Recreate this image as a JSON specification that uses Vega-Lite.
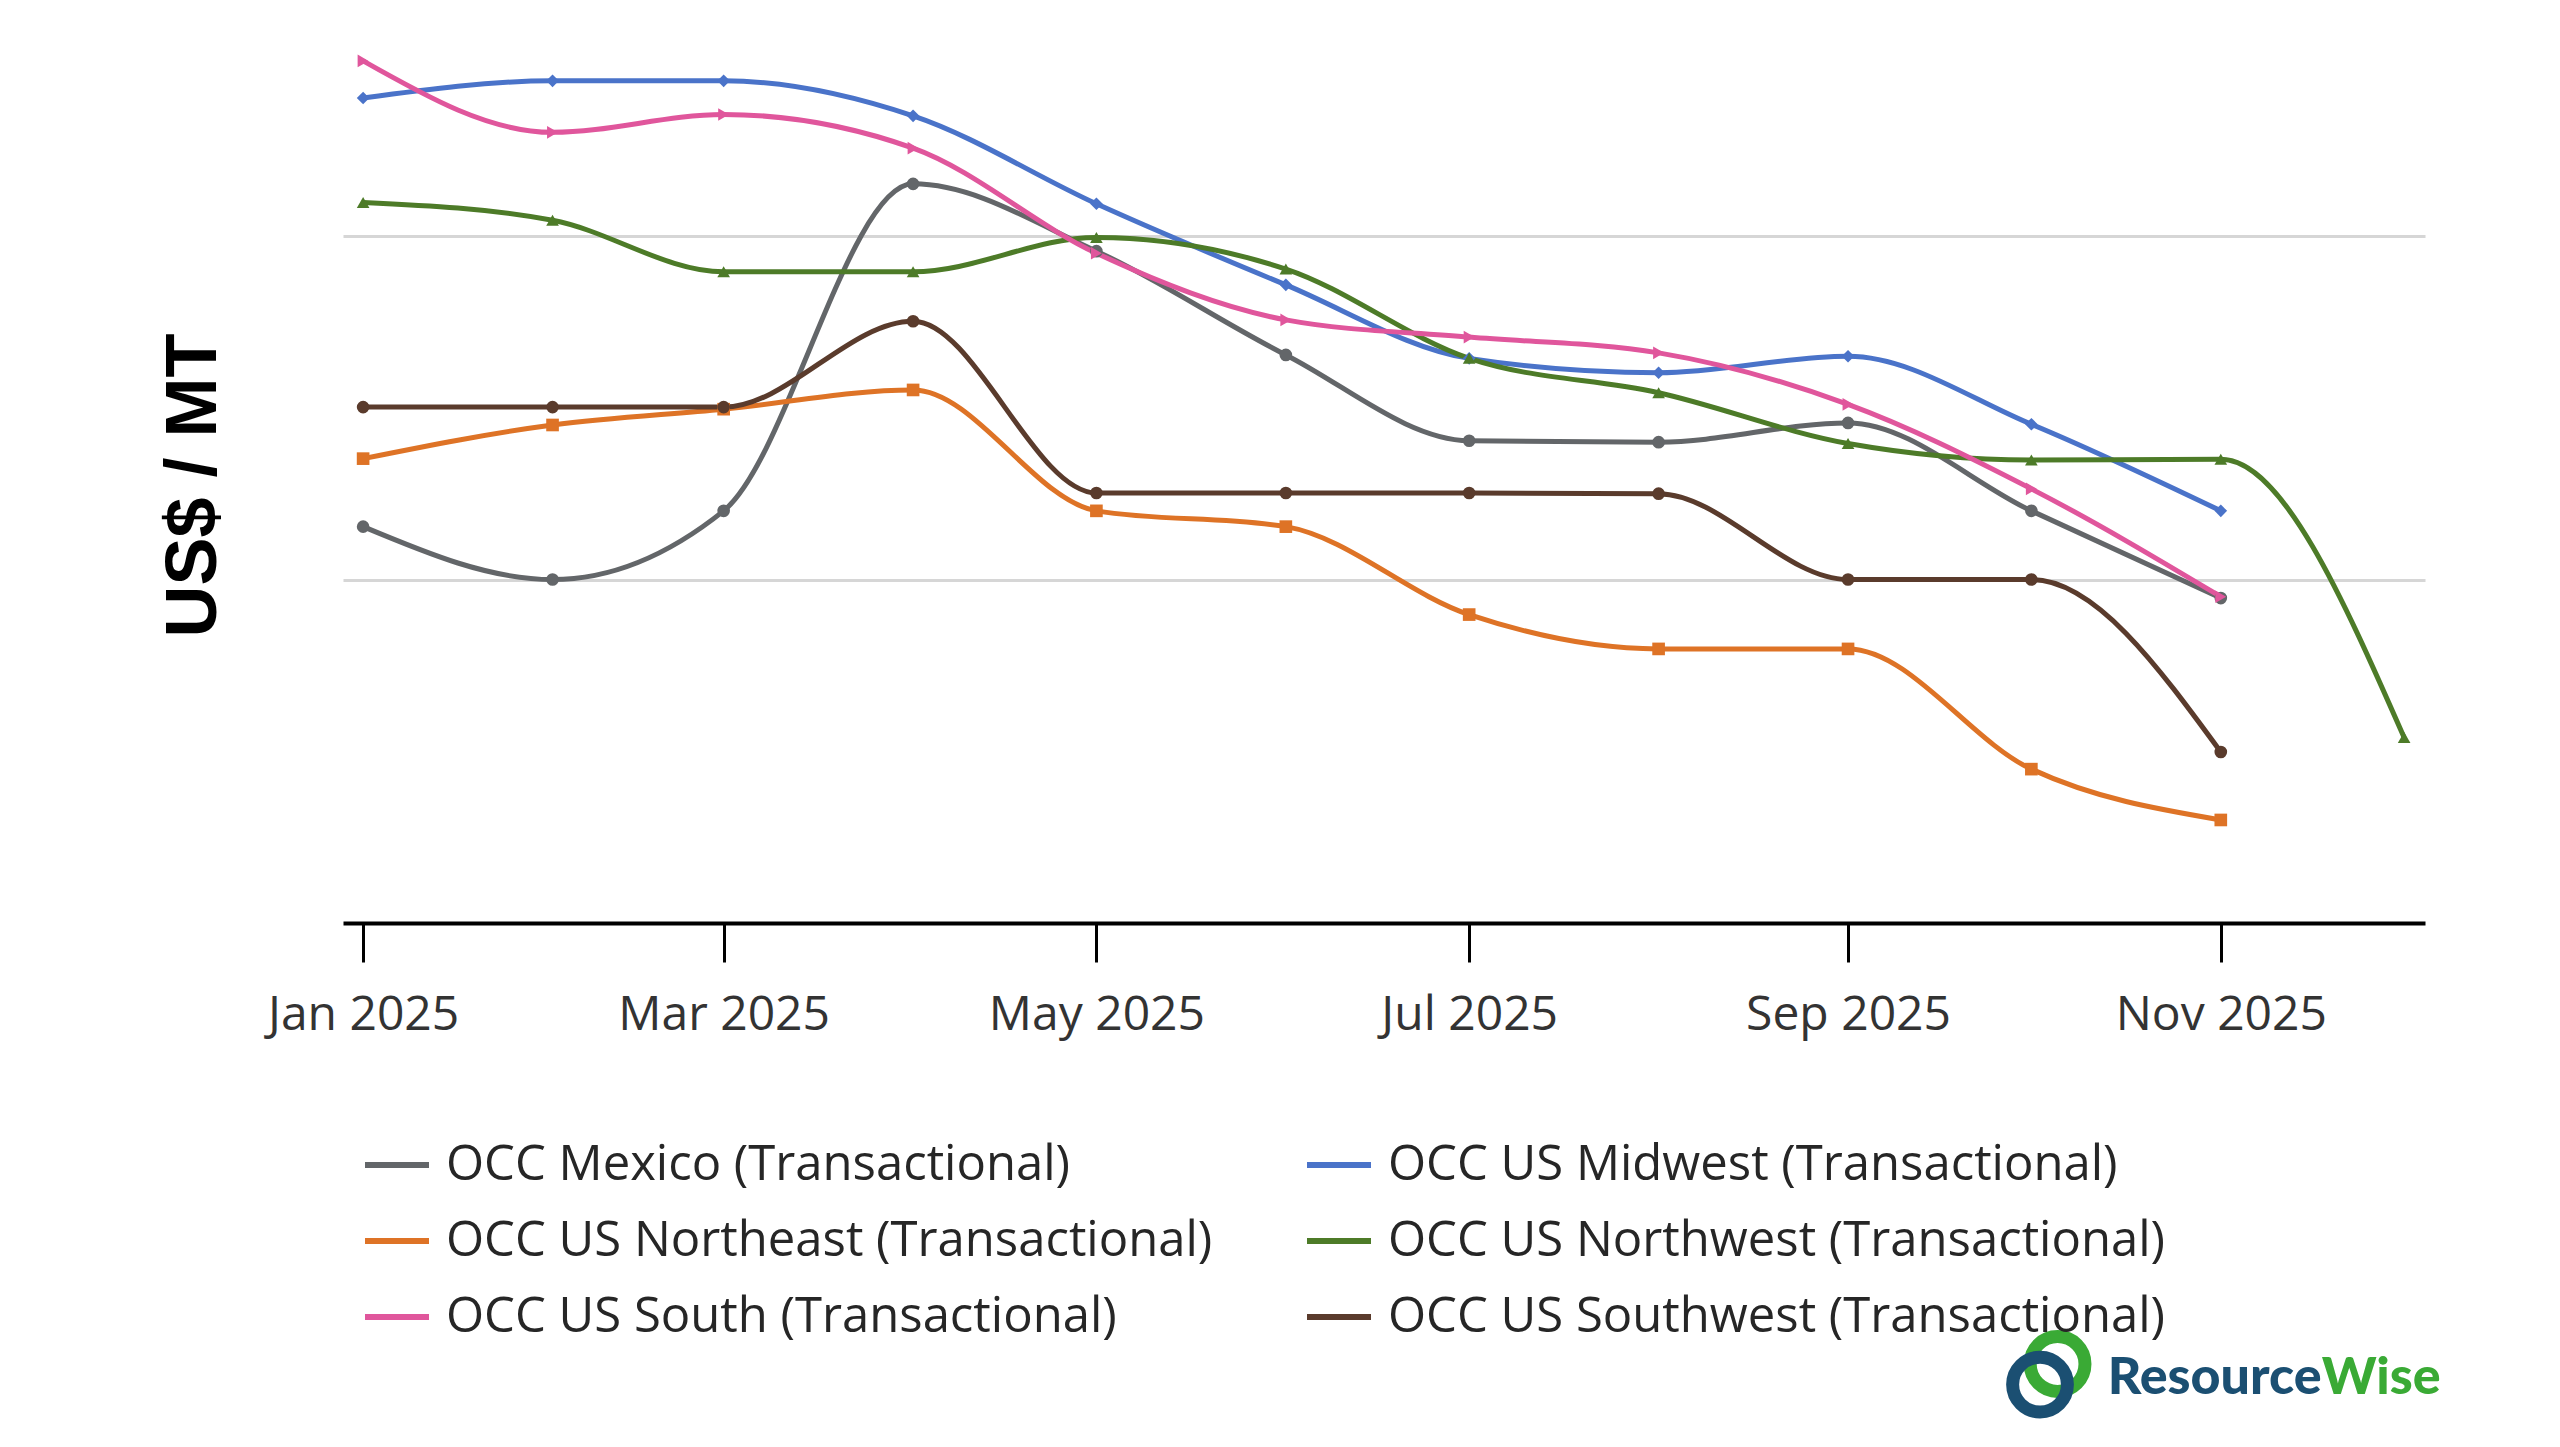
{
  "$schema": "https://vega.github.io/schema/vega-lite/v6.json",
  "width": 2082,
  "height": 893,
  "autosize": {"type": "none"},
  "padding": {"left": 343, "top": 30, "right": 135, "bottom": 524},
  "background": "white",
  "config": {"view": {"stroke": null}, "font": "Open Sans"},
  "datasets": {
    "prices": [
      {"date": "2025-01-01", "series": "OCC Mexico (Transactional)", "value": 107.7},
      {"date": "2025-02-01", "series": "OCC Mexico (Transactional)", "value": 100.0},
      {"date": "2025-03-01", "series": "OCC Mexico (Transactional)", "value": 110.0},
      {"date": "2025-04-01", "series": "OCC Mexico (Transactional)", "value": 157.6},
      {"date": "2025-05-01", "series": "OCC Mexico (Transactional)", "value": 147.8},
      {"date": "2025-06-01", "series": "OCC Mexico (Transactional)", "value": 132.7},
      {"date": "2025-07-01", "series": "OCC Mexico (Transactional)", "value": 120.2},
      {"date": "2025-08-01", "series": "OCC Mexico (Transactional)", "value": 120.0},
      {"date": "2025-09-01", "series": "OCC Mexico (Transactional)", "value": 122.8},
      {"date": "2025-10-01", "series": "OCC Mexico (Transactional)", "value": 110.0},
      {"date": "2025-11-01", "series": "OCC Mexico (Transactional)", "value": 97.3},
      {"date": "2025-01-01", "series": "OCC US Midwest (Transactional)", "value": 170.1},
      {"date": "2025-02-01", "series": "OCC US Midwest (Transactional)", "value": 172.6},
      {"date": "2025-03-01", "series": "OCC US Midwest (Transactional)", "value": 172.6},
      {"date": "2025-04-01", "series": "OCC US Midwest (Transactional)", "value": 167.5},
      {"date": "2025-05-01", "series": "OCC US Midwest (Transactional)", "value": 154.7},
      {"date": "2025-06-01", "series": "OCC US Midwest (Transactional)", "value": 142.9},
      {"date": "2025-07-01", "series": "OCC US Midwest (Transactional)", "value": 132.2},
      {"date": "2025-08-01", "series": "OCC US Midwest (Transactional)", "value": 130.1},
      {"date": "2025-09-01", "series": "OCC US Midwest (Transactional)", "value": 132.5},
      {"date": "2025-10-01", "series": "OCC US Midwest (Transactional)", "value": 122.6},
      {"date": "2025-11-01", "series": "OCC US Midwest (Transactional)", "value": 110.0},
      {"date": "2025-01-01", "series": "OCC US Northeast (Transactional)", "value": 117.6},
      {"date": "2025-02-01", "series": "OCC US Northeast (Transactional)", "value": 122.5},
      {"date": "2025-03-01", "series": "OCC US Northeast (Transactional)", "value": 124.8},
      {"date": "2025-04-01", "series": "OCC US Northeast (Transactional)", "value": 127.6},
      {"date": "2025-05-01", "series": "OCC US Northeast (Transactional)", "value": 110.0},
      {"date": "2025-06-01", "series": "OCC US Northeast (Transactional)", "value": 107.7},
      {"date": "2025-07-01", "series": "OCC US Northeast (Transactional)", "value": 94.9},
      {"date": "2025-08-01", "series": "OCC US Northeast (Transactional)", "value": 89.9},
      {"date": "2025-09-01", "series": "OCC US Northeast (Transactional)", "value": 89.9},
      {"date": "2025-10-01", "series": "OCC US Northeast (Transactional)", "value": 72.4},
      {"date": "2025-11-01", "series": "OCC US Northeast (Transactional)", "value": 65.0},
      {"date": "2025-01-01", "series": "OCC US Northwest (Transactional)", "value": 154.9},
      {"date": "2025-02-01", "series": "OCC US Northwest (Transactional)", "value": 152.3},
      {"date": "2025-03-01", "series": "OCC US Northwest (Transactional)", "value": 144.8},
      {"date": "2025-04-01", "series": "OCC US Northwest (Transactional)", "value": 144.8},
      {"date": "2025-05-01", "series": "OCC US Northwest (Transactional)", "value": 149.8},
      {"date": "2025-06-01", "series": "OCC US Northwest (Transactional)", "value": 145.2},
      {"date": "2025-07-01", "series": "OCC US Northwest (Transactional)", "value": 132.2},
      {"date": "2025-08-01", "series": "OCC US Northwest (Transactional)", "value": 127.2},
      {"date": "2025-09-01", "series": "OCC US Northwest (Transactional)", "value": 119.8},
      {"date": "2025-10-01", "series": "OCC US Northwest (Transactional)", "value": 117.4},
      {"date": "2025-11-01", "series": "OCC US Northwest (Transactional)", "value": 117.5},
      {"date": "2025-12-01", "series": "OCC US Northwest (Transactional)", "value": 77.0},
      {"date": "2025-01-01", "series": "OCC US South (Transactional)", "value": 175.5},
      {"date": "2025-02-01", "series": "OCC US South (Transactional)", "value": 165.1},
      {"date": "2025-03-01", "series": "OCC US South (Transactional)", "value": 167.7},
      {"date": "2025-04-01", "series": "OCC US South (Transactional)", "value": 162.8},
      {"date": "2025-05-01", "series": "OCC US South (Transactional)", "value": 147.5},
      {"date": "2025-06-01", "series": "OCC US South (Transactional)", "value": 137.8},
      {"date": "2025-07-01", "series": "OCC US South (Transactional)", "value": 135.3},
      {"date": "2025-08-01", "series": "OCC US South (Transactional)", "value": 133.0},
      {"date": "2025-09-01", "series": "OCC US South (Transactional)", "value": 125.5},
      {"date": "2025-10-01", "series": "OCC US South (Transactional)", "value": 113.2},
      {"date": "2025-11-01", "series": "OCC US South (Transactional)", "value": 97.5},
      {"date": "2025-01-01", "series": "OCC US Southwest (Transactional)", "value": 125.1},
      {"date": "2025-02-01", "series": "OCC US Southwest (Transactional)", "value": 125.1},
      {"date": "2025-03-01", "series": "OCC US Southwest (Transactional)", "value": 125.1},
      {"date": "2025-04-01", "series": "OCC US Southwest (Transactional)", "value": 137.6},
      {"date": "2025-05-01", "series": "OCC US Southwest (Transactional)", "value": 112.6},
      {"date": "2025-06-01", "series": "OCC US Southwest (Transactional)", "value": 112.6},
      {"date": "2025-07-01", "series": "OCC US Southwest (Transactional)", "value": 112.6},
      {"date": "2025-08-01", "series": "OCC US Southwest (Transactional)", "value": 112.5},
      {"date": "2025-09-01", "series": "OCC US Southwest (Transactional)", "value": 100.0},
      {"date": "2025-10-01", "series": "OCC US Southwest (Transactional)", "value": 100.0},
      {"date": "2025-11-01", "series": "OCC US Southwest (Transactional)", "value": 74.9}
    ]
  },
  "layer": [
    {
      "data": {"name": "prices"},
      "mark": {"type": "line", "interpolate": "monotone", "strokeWidth": 5},
      "encoding": {
        "x": {
          "field": "date", "type": "temporal", "title": null,
          "scale": {
            "type": "utc", "nice": false,
            "domain": [
              {"year": 2024, "month": 12, "date": 28, "hours": 17, "utc": true},
              {"year": 2025, "month": 12, "date": 4, "hours": 10, "utc": true}
            ]
          },
          "axis": {
            "tickCount": {"interval": "month", "step": 2},
            "format": "%b %Y",
            "grid": false,
            "domainColor": "black", "domainWidth": 4,
            "tickColor": "black", "tickWidth": 3, "tickSize": 39,
            "labelFont": "Open Sans", "labelFontSize": 48, "labelColor": "#333333",
            "labelPadding": 29, "labelFlush": false, "labelOverlap": false, "labelLimit": 500
          }
        },
        "y": {
          "field": "value", "type": "quantitative", "title": "US$ / MT",
          "scale": {"domain": [50, 180], "nice": false, "zero": false},
          "axis": {
            "values": [100, 150],
            "grid": true, "gridColor": "#d6d6d6", "gridWidth": 3,
            "domain": false, "ticks": false, "labels": false,
            "titleFont": "Liberation Sans", "titleFontSize": 72, "titleFontWeight": "bold",
            "titleColor": "black", "titleAngle": -90, "titleX": -150, "titleY": 455,
            "titleAlign": "center", "titleBaseline": "middle"
          }
        },
        "color": {
          "field": "series", "type": "nominal",
          "scale": {
            "domain": [
              "OCC Mexico (Transactional)", "OCC US Midwest (Transactional)",
              "OCC US Northeast (Transactional)", "OCC US Northwest (Transactional)",
              "OCC US South (Transactional)", "OCC US Southwest (Transactional)"
            ],
            "range": ["#636669", "#4a73c9", "#de7326", "#4d7b28", "#e0569c", "#5a3b2c"]
          },
          "legend": {
            "orient": "none", "legendX": 19, "legendY": 1100,
            "direction": "horizontal", "columns": 2, "title": null, "padding": 0,
            "symbolType": "stroke", "symbolSize": 4096, "symbolStrokeWidth": 6,
            "labelFont": "Open Sans", "labelFontSize": 49, "labelColor": "#262626",
            "labelOffset": 14, "columnPadding": 82, "rowPadding": 16, "labelLimit": 1200
          }
        }
      }
    },
    {
      "data": {"name": "prices"},
      "mark": {"type": "point", "filled": true, "size": 160, "opacity": 1},
      "encoding": {
        "x": {"field": "date", "type": "temporal", "title": null, "scale": {"type": "utc"}},
        "y": {"field": "value", "type": "quantitative", "title": "US$ / MT"},
        "color": {"field": "series", "type": "nominal"},
        "shape": {
          "field": "series", "type": "nominal", "legend": null,
          "scale": {"range": ["circle", "diamond", "square", "triangle-up", "triangle-right", "circle"]}
        }
      }
    },
    {
      "data": {"values": [
        {"part": "ring1", "colour": "#3aaa35", "day": "2025-10-05T07:00:00Z", "v": -14.2},
        {"part": "ring2", "colour": "#1b4f72", "day": "2025-10-02T10:00:00Z", "v": -17.2}
      ]},
      "mark": {"type": "point", "shape": "circle", "filled": false, "size": 3000, "strokeWidth": 13, "clip": false, "opacity": 1},
      "encoding": {
        "x": {"field": "day", "type": "temporal", "title": null, "scale": {"type": "utc"}},
        "y": {"field": "v", "type": "quantitative", "title": "US$ / MT"},
        "stroke": {"field": "colour", "type": "nominal", "scale": null}
      }
    },
    {
      "data": {"values": [
        {"word": "Resource", "colour": "#1b4f72", "day": "2025-11-17T12:00:00Z", "v": -18.5}
      ]},
      "mark": {"type": "text", "font": "Lato", "fontWeight": 900, "fontSize": 52, "baseline": "alphabetic", "align": "right", "clip": false},
      "encoding": {
        "x": {"field": "day", "type": "temporal", "title": null, "scale": {"type": "utc"}},
        "y": {"field": "v", "type": "quantitative", "title": "US$ / MT"},
        "text": {"field": "word"},
        "fill": {"field": "colour", "type": "nominal", "scale": null}
      }
    },
    {
      "data": {"values": [
        {"word": "Wise", "colour": "#3aaa35", "day": "2025-11-17T12:00:00Z", "v": -18.5}
      ]},
      "mark": {"type": "text", "font": "Lato", "fontWeight": 900, "fontSize": 52, "baseline": "alphabetic", "align": "left", "clip": false},
      "encoding": {
        "x": {"field": "day", "type": "temporal", "title": null, "scale": {"type": "utc"}},
        "y": {"field": "v", "type": "quantitative", "title": "US$ / MT"},
        "text": {"field": "word"},
        "fill": {"field": "colour", "type": "nominal", "scale": null}
      }
    }
  ]
}
